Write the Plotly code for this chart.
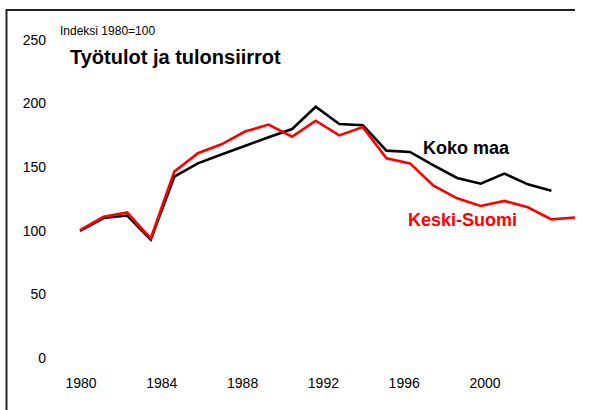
import plotly.graph_objects as go

years = list(range(1980, 2002))
koko_maa = [100, 110, 112, 93, 142.5, 153, 160, 167, 173.5, 180, 197.5, 184, 183, 163, 162, 151.5, 141.5, 137, 145, 136.5, 131.5, None]
keski_suomi = [100.5, 111, 114.5, 94, 146.5, 161, 168, 178, 183.5, 174, 186.5, 175, 181.5, 157, 153, 135.5, 125.5, 119.5, 123.5, 118.5, 109, 110.5]
y_ticks = [0, 50, 100, 150, 200, 250]
x_tick_labels = [1980, 1984, 1988, 1992, 1996, 2000]

W, H = 595, 410
L, R, T, B = 55, 5, 20, 40
pw = W - L - R
ph = H - T - B

def px(x):
    return (x - L) / pw

def py(y):
    return (H - B - y) / ph

font = "Liberation Sans, Arial, sans-serif"

fig = go.Figure()
fig.add_trace(go.Scatter(x=years, y=koko_maa, mode="lines", line=dict(color="black", width=2.6),
                         name="Koko maa", showlegend=False))
fig.add_trace(go.Scatter(x=years, y=keski_suomi, mode="lines", line=dict(color="#ff0000", width=2.6),
                         name="Keski-Suomi", showlegend=False))
# invisible trace to activate the label axis
fig.add_trace(go.Scatter(x=[1980], y=[None], xaxis="x2", showlegend=False, hoverinfo="skip"))

frame = dict(color="#222", width=2)
fig.update_layout(
    width=W, height=H,
    margin=dict(l=L, r=R, t=T, b=B),
    paper_bgcolor="white", plot_bgcolor="white",
    font=dict(family=font, color="black", size=14),
    xaxis=dict(range=[1978.939, 2001.637], showticklabels=False, showgrid=False,
               zeroline=False, showline=False, ticks=""),
    xaxis2=dict(range=[1978.713, 2005.198], overlaying="x", side="bottom",
                tickvals=x_tick_labels, ticktext=[str(v) for v in x_tick_labels],
                showgrid=False, zeroline=False, showline=False, ticks="",
                tickfont=dict(size=14), ticklabelstandoff=3),
    yaxis=dict(range=[-9.43, 265.7], tickvals=y_ticks, showgrid=False, zeroline=False,
               showline=False, ticks="", tickfont=dict(size=14), ticklabelstandoff=8),
    shapes=[
        dict(type="path", xref="paper", yref="paper",
             path=f"M {px(6.5)},{py(415)} L {px(6.5)},{py(10)} L {px(575)},{py(10)}",
             line=frame),
    ],
    annotations=[
        dict(text="Indeksi 1980=100", xref="paper", yref="paper", x=px(58), y=py(31),
             xanchor="left", yanchor="middle", showarrow=False, font=dict(size=12)),
        dict(text="<b>Työtulot ja tulonsiirrot</b>", xref="paper", yref="paper", x=px(68), y=py(57),
             xanchor="left", yanchor="middle", showarrow=False, font=dict(size=20)),
        dict(text="<b>Koko maa</b>", xref="paper", yref="paper", x=px(421), y=py(148),
             xanchor="left", yanchor="middle", showarrow=False, font=dict(size=18, color="black")),
        dict(text="<b>Keski-Suomi</b>", xref="paper", yref="paper", x=px(406), y=py(220),
             xanchor="left", yanchor="middle", showarrow=False, font=dict(size=18, color="#ff0000")),
    ],
)

fig.write_html("out.html", config={"displayModeBar": False},
               post_script="document.body.style.margin='0';document.body.style.overflow='hidden';")
